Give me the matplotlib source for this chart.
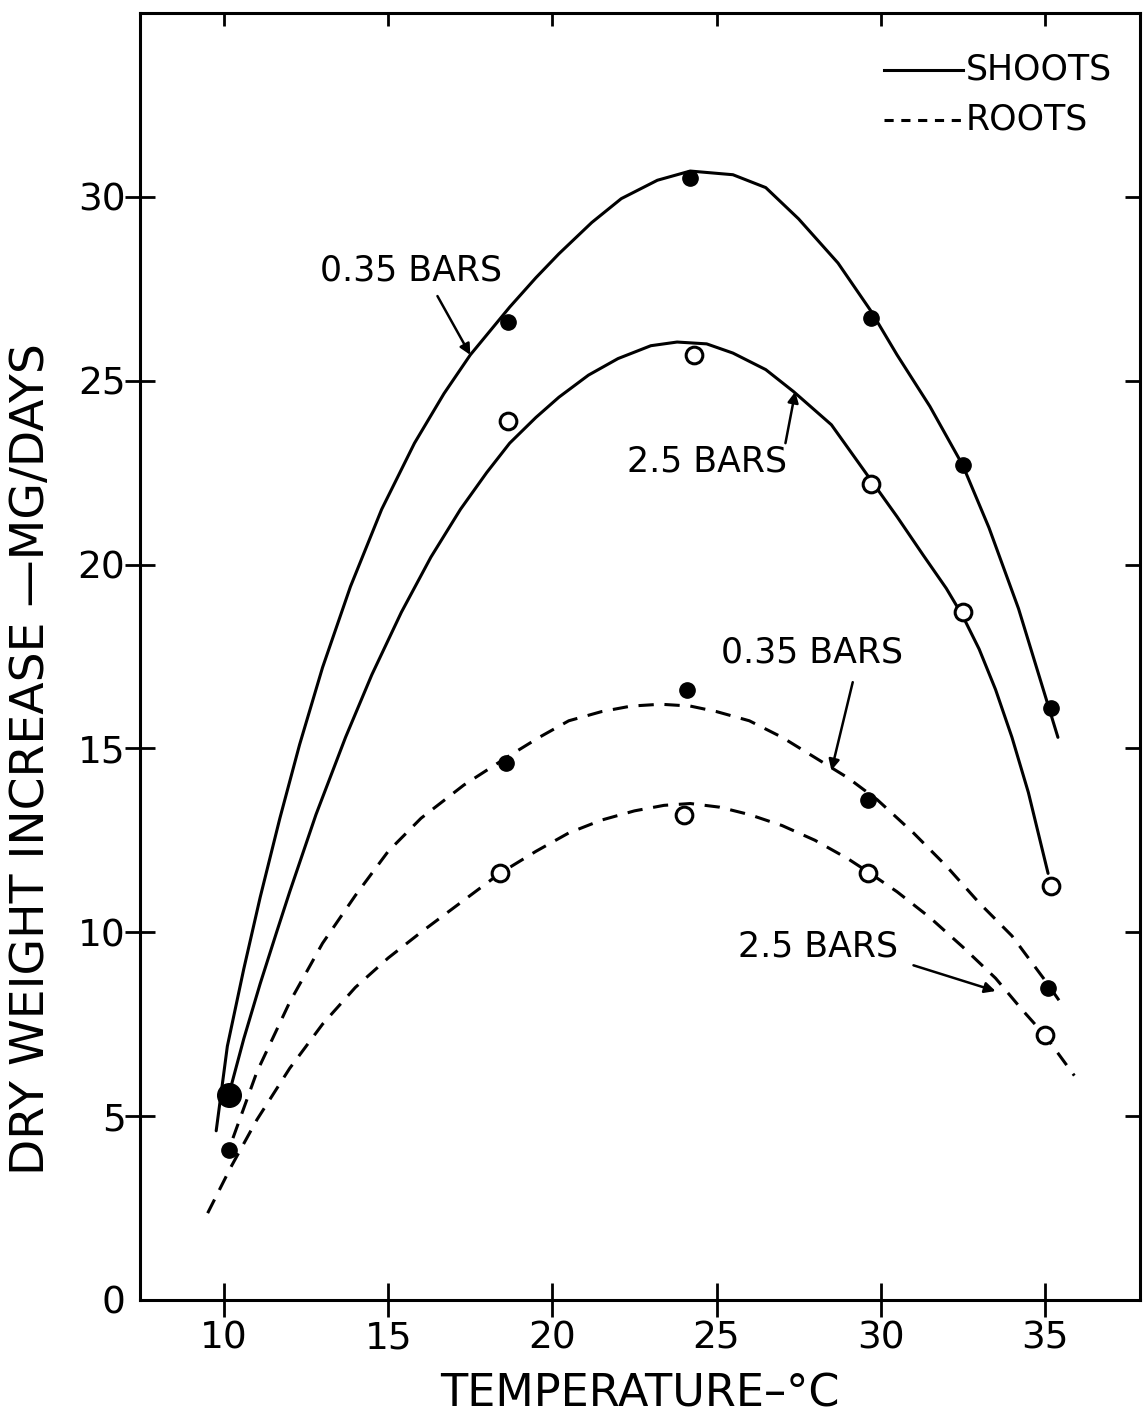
import matplotlib.pyplot as plt

# measured points: temperature (C) vs dry weight increase (mg/day)
shoot_hi_x = [10.15, 18.66, 24.2, 29.7, 32.5, 35.2]
shoot_hi_y = [5.57, 26.6, 30.5, 26.7, 22.7, 16.1]
shoot_lo_x = [18.66, 24.3, 29.7, 32.5, 35.2]
shoot_lo_y = [23.9, 25.7, 22.2, 18.7, 11.25]
root_hi_x = [10.15, 18.6, 24.1, 29.6, 35.1]
root_hi_y = [4.08, 14.6, 16.6, 13.6, 8.48]
root_lo_x = [18.4, 24.0, 29.6, 35.0]
root_lo_y = [11.6, 13.2, 11.6, 7.2]

# hand-fitted curves, read along their length
curve_shoot_hi_x = [9.76, 10.1, 10.6, 11.1, 11.7, 12.3, 13.0, 13.85, 14.8, 15.8, 16.7,
                    17.5, 18.7, 19.5, 20.2, 21.2, 22.1, 23.2, 24.2, 25.5, 26.5,
                    27.5, 28.7, 29.7, 30.5, 31.5, 32.5, 33.3, 34.2, 35.4]
curve_shoot_hi_y = [4.6, 6.9, 9.0, 10.95, 13.1, 15.1, 17.2, 19.4, 21.5, 23.3, 24.65,
                    25.7, 27.0, 27.8, 28.45, 29.3, 29.95, 30.45, 30.7, 30.6, 30.25,
                    29.4, 28.2, 26.9, 25.7, 24.3, 22.7, 21.0, 18.8, 15.3]
curve_shoot_lo_x = [10.15, 10.6, 11.1, 11.6, 12.0, 12.8, 13.7, 14.5, 15.4, 16.3, 17.2,
                    18.0, 18.7, 19.5, 20.2, 21.1, 22.0, 23.0, 23.8, 24.7, 25.5,
                    26.5, 27.35, 28.5, 29.7, 30.5, 31.3, 32.0, 32.5, 33.0, 33.5,
                    34.0, 34.5, 35.1]
curve_shoot_lo_y = [5.6, 7.1, 8.6, 10.0, 11.1, 13.2, 15.3, 17.0, 18.7, 20.2, 21.5,
                    22.5, 23.3, 24.0, 24.55, 25.15, 25.6, 25.95, 26.05, 26.0, 25.75,
                    25.3, 24.7, 23.8, 22.3, 21.3, 20.25, 19.35, 18.6, 17.7, 16.6,
                    15.3, 13.8, 11.6]
curve_root_hi_x = [10.27, 11.0, 12.0, 13.0, 14.0, 15.0, 16.0, 17.3, 18.6, 19.6, 20.5,
                   21.5, 22.4, 23.3, 24.2, 25.0, 26.0, 27.0, 28.0, 29.0, 29.9,
                   31.0, 32.0, 33.0, 34.0, 35.0, 35.55]
curve_root_hi_y = [4.4, 6.2, 8.1, 9.7, 11.0, 12.2, 13.1, 14.0, 14.75, 15.3, 15.75,
                   16.0, 16.15, 16.2, 16.15, 16.0, 15.75, 15.3, 14.75, 14.2, 13.6,
                   12.7, 11.8, 10.8, 9.9, 8.7, 8.0]
curve_root_lo_x = [9.5, 10.2, 11.0, 12.0, 13.0, 14.0, 15.0, 16.0, 17.2, 18.4, 19.5,
                   20.5, 21.5, 22.5, 23.4, 24.2, 25.1, 26.0, 27.0, 28.0, 29.0,
                   29.6, 30.5, 31.5, 32.5, 33.5, 34.3, 35.0, 35.9]
curve_root_lo_y = [2.36, 3.6, 4.9, 6.3, 7.5, 8.5, 9.3, 10.0, 10.8, 11.6, 12.2,
                   12.7, 13.05, 13.3, 13.45, 13.5, 13.4, 13.2, 12.9, 12.5, 12.0,
                   11.65, 11.1, 10.4, 9.6, 8.75, 7.9, 7.2, 6.1]

x_ticks = [10, 15, 20, 25, 30, 35]
y_ticks = [0, 5, 10, 15, 20, 25, 30]

plt.rcParams['font.family'] = ['DejaVu Sans']

fig = plt.figure(figsize=(11.44, 14.21), dpi=100)
ax = fig.add_axes([0.1224, 0.0852, 0.8741, 0.9057])
ax.set_xlim(7.44, 37.9)
ax.set_ylim(0, 35)

lw = 2.2
dash = (0, (5, 3.5))
ax.plot(curve_shoot_hi_x, curve_shoot_hi_y, color='black', lw=lw, solid_capstyle='round')
ax.plot(curve_shoot_lo_x, curve_shoot_lo_y, color='black', lw=lw, solid_capstyle='round')
ax.plot(curve_root_hi_x, curve_root_hi_y, color='black', lw=lw, linestyle=dash)
ax.plot(curve_root_lo_x, curve_root_lo_y, color='black', lw=lw, linestyle=dash)

ax.plot(shoot_hi_x[1:], shoot_hi_y[1:], 'o', color='black', ms=11)
ax.plot(shoot_hi_x[:1], shoot_hi_y[:1], 'o', color='black', ms=17)
ax.plot(root_hi_x, root_hi_y, 'o', color='black', ms=11)
ax.plot(shoot_lo_x, shoot_lo_y, 'o', mfc='white', mec='black', mew=2.2, ms=12)
ax.plot(root_lo_x, root_lo_y, 'o', mfc='white', mec='black', mew=2.2, ms=12)

fs = 25
arrow = dict(arrowstyle='-|>', color='black', lw=1.8, mutation_scale=16,
             shrinkA=0, shrinkB=0)
ax.text(15.7, 28.0, '0.35 BARS', fontsize=fs, ha='center', va='center')
ax.annotate('', xy=(17.5, 25.7), xytext=(16.5, 27.3), arrowprops=arrow)
ax.text(24.7, 22.8, '2.5 BARS', fontsize=fs, ha='center', va='center')
ax.annotate('', xy=(27.4, 24.7), xytext=(27.1, 23.3), arrowprops=arrow)
ax.text(27.9, 17.6, '0.35 BARS', fontsize=fs, ha='center', va='center')
ax.annotate('', xy=(28.5, 14.4), xytext=(29.15, 16.8), arrowprops=arrow)
ax.text(28.1, 9.6, '2.5 BARS', fontsize=fs, ha='center', va='center')
ax.annotate('', xy=(33.5, 8.4), xytext=(31.0, 9.1), arrowprops=arrow)

# key in the upper right corner
ax.plot([30.1, 32.5], [33.45, 33.45], color='black', lw=lw)
ax.plot([30.1, 32.5], [32.1, 32.1], color='black', lw=lw, linestyle=(0, (3, 2.5)))
ax.text(32.6, 33.45, 'SHOOTS', fontsize=fs, va='center', ha='left')
ax.text(32.6, 32.1, 'ROOTS', fontsize=fs, va='center', ha='left')

ax.set_xticks(x_ticks)
ax.set_yticks(y_ticks)
ax.set_xticklabels([str(v) for v in x_ticks], fontsize=27)
ax.set_yticklabels([str(v) for v in y_ticks], fontsize=27)
ax.tick_params(axis='x', direction='inout', length=25, width=2, pad=2)
ax.tick_params(axis='y', direction='inout', length=21, width=2, pad=0)
ax.tick_params(top=True, right=True, labeltop=False, labelright=False)
for sp in ax.spines.values():
    sp.set_linewidth(2.2)

# opposite-side ticks point inward only
for t in ax.xaxis.get_major_ticks():
    t.tick2line.set_markersize(9)
    t.tick2line.set_marker(3)
for t in ax.yaxis.get_major_ticks():
    t.tick2line.set_markersize(11)
    t.tick2line.set_marker(0)
ax.yaxis.get_major_ticks()[0].tick1line.set_visible(False)
ax.yaxis.get_major_ticks()[0].tick2line.set_visible(False)

ax.set_xlabel('TEMPERATURE\u2013\u00b0C', fontsize=32)
ax.xaxis.set_label_coords(0.5, -0.056)
ax.set_ylabel('DRY WEIGHT INCREASE \u2014MG/DAYS', fontsize=34)
ax.yaxis.set_label_coords(-0.086, 0.42)

fig.savefig('out.png', dpi=100)
